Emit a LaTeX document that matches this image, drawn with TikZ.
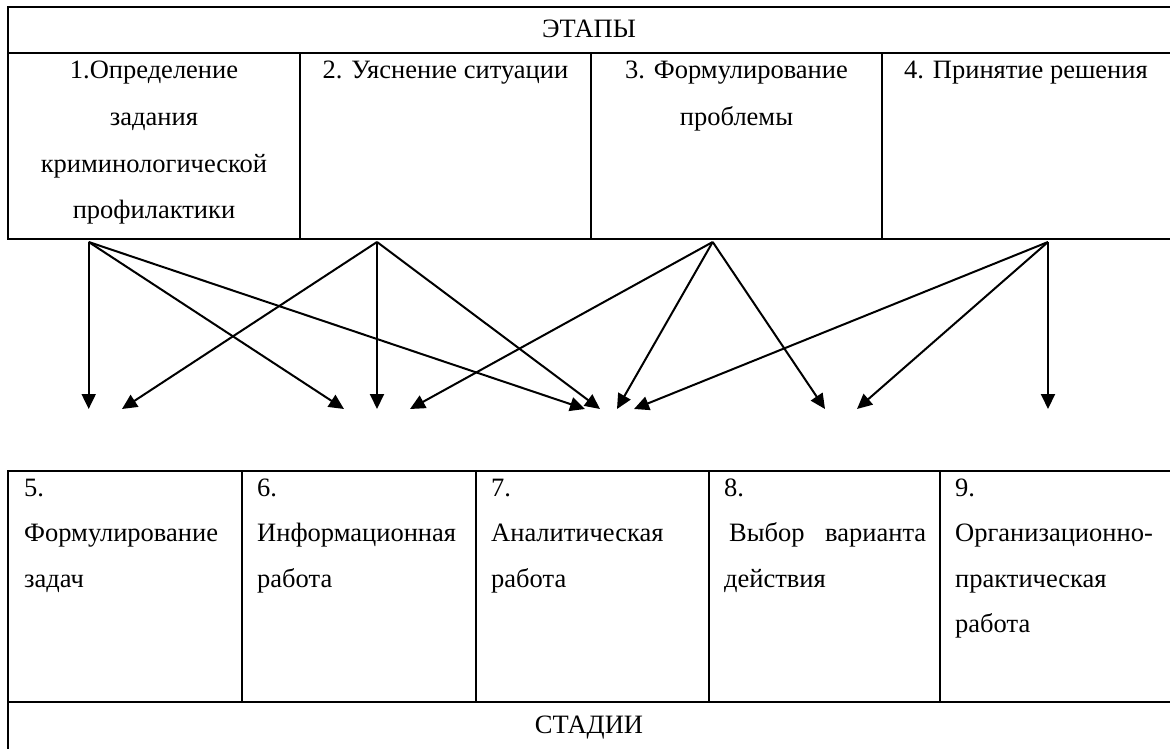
\documentclass[tikz,border=0pt]{standalone}
\usepackage{fontspec}
\setmainfont{Liberation Serif}
\usetikzlibrary{arrows.meta}
\begin{document}
\begin{tikzpicture}[x=1pt,y=-1pt,
  tbl/.style={line width=2pt},
  arr/.style={line width=2pt,-{Triangle[length=15pt,width=14pt]}},
  txt/.style={inner sep=0pt,anchor=base,font=\fontsize{26.5}{30}\selectfont},
  ltxt/.style={txt,anchor=base west}]
\clip (0,0) rectangle (1170,749);
% ---------- top table ----------
\draw[tbl] (1178,7) -- (8,7) -- (8,239) -- (1178,239);
\draw[tbl] (8,53) -- (1178,53);
\draw[tbl] (300,53) -- (300,239) (591,53) -- (591,239) (882,53) -- (882,239);
\node[txt] (etapy) at (589,38) {ЭТАПЫ};
\node[txt] (c1a) at (154,79) {1.Определение};
\node[txt] (c1b) at (154,125.5) {задания};
\node[txt] (c1c) at (154,172) {криминологической};
\node[txt] (c1d) at (154,218.5) {профилактики};
\node[txt] (c2a) at (445.5,79) {2. Уяснение ситуации};
\node[txt] (c3a) at (736.5,79) {3. Формулирование};
\node[txt] (c3b) at (736.5,125.5) {проблемы};
\node[txt] (c4a) at (1026,79) {4. Принятие решения};
% ---------- bottom table ----------
\draw[tbl] (1178,471) -- (8,471) -- (8,760);
\draw[tbl] (8,702) -- (1178,702);
\draw[tbl] (242,471) -- (242,702) (476,471) -- (476,702) (709,471) -- (709,702) (940,471) -- (940,702);
\node[ltxt] (c5a) at (24,496) {5.};
\node[ltxt] (c5b) at (24,541.5) {Формулирование};
\node[ltxt] (c5c) at (24,587) {задач};
\node[ltxt] (c6a) at (257,496) {6.};
\node[ltxt] (c6b) at (257,541.5) {Информационная};
\node[ltxt] (c6c) at (257,587) {работа};
\node[ltxt] (c7a) at (491,496) {7.};
\node[ltxt] (c7b) at (491,541.5) {Аналитическая};
\node[ltxt] (c7c) at (491,587) {работа};
\node[ltxt] (c8a) at (724,496) {8.};
\node[ltxt] (c8b) at (729,541.5) {\makebox[197pt][s]{Выбор\hfill варианта}};
\node[ltxt] (c8c) at (724,587) {действия};
\node[ltxt] (c9a) at (955,496) {9.};
\node[ltxt] (c9b) at (955,541.5) {Организационно-};
\node[ltxt] (c9c) at (955,587) {практическая};
\node[ltxt] (c9d) at (955,632.5) {работа};
\node[txt] (stadii) at (589,733) {СТАДИИ};
% ---------- arrows ----------
\coordinate (s1) at (88.7,242);
\coordinate (s2) at (377,242);
\coordinate (s3) at (712.7,242);
\coordinate (s4) at (1048,242);
\coordinate (t1) at (88.7,409);
\coordinate (t2) at (122,409);
\coordinate (t3) at (344,409);
\coordinate (t4) at (377,409);
\coordinate (t5) at (410,409);
\coordinate (t6) at (585,409);
\coordinate (t7) at (600,409);
\coordinate (t8) at (617,409);
\coordinate (t9) at (634,409);
\coordinate (t10) at (825,409);
\coordinate (t11) at (857,409);
\coordinate (t12) at (1048,409);
\draw[arr] (s1) -- (t1);
\draw[arr] (s1) -- (t3);
\draw[arr] (s1) -- (t6);
\draw[arr] (s2) -- (t2);
\draw[arr] (s2) -- (t4);
\draw[arr] (s2) -- (t7);
\draw[arr] (s3) -- (t5);
\draw[arr] (s3) -- (t8);
\draw[arr] (s3) -- (t10);
\draw[arr] (s4) -- (t9);
\draw[arr] (s4) -- (t11);
\draw[arr] (s4) -- (t12);
\end{tikzpicture}
\end{document}
